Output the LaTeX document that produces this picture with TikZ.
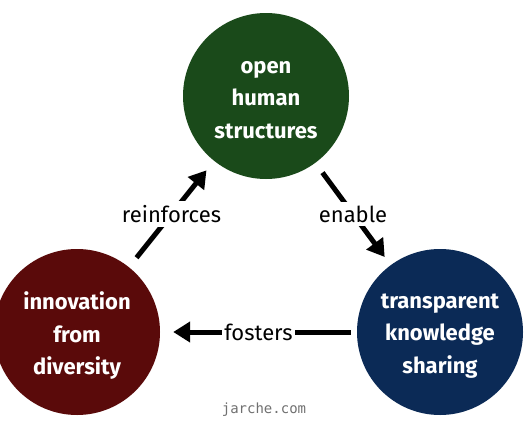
\documentclass[tikz,border=0pt]{standalone}
\usepackage{fontspec}
\setmainfont{Fira Sans}
\newfontfamily\monofam{DejaVu Sans Mono}
\usetikzlibrary{arrows.meta}
\definecolor{cgreen}{HTML}{1A4A1A}
\definecolor{cred}{HTML}{5A0A0A}
\definecolor{cblue}{HTML}{0B2A56}
\definecolor{cgray}{HTML}{707070}
\begin{document}
\begin{tikzpicture}[x=1pt,y=-1pt,
  bubble/.style={circle,minimum size=166pt,inner sep=0pt},
  bubtext/.style={text=white,align=center,yshift=-4pt,inner sep=0pt,
    font=\fontsize{22}{32.5}\selectfont\bfseries},
  link/.style={line width=5pt,-{Triangle[length=17pt,width=20pt]}},
  lbl/.style={fill=white,inner sep=4pt,font=\fontsize{22}{26}\selectfont}]
\useasboundingbox (0,0) rectangle (530,442);
\node[bubble,fill=cgreen,label={[bubtext]center:{open\\human\\structures}}] (top) at (266,96) {};
\node[bubble,fill=cred,label={[bubtext]center:{innovation\\from\\diversity}}] (left) at (77,332) {};
\node[bubble,fill=cblue,label={[bubtext]center:{transparent\\knowledge\\sharing}}] (right) at (440,332) {};
\draw[link,shorten <=12pt,shorten >=12pt] (left) -- node[lbl] {reinforces} (top);
\draw[link,shorten <=12pt,shorten >=10pt] (top) -- node[lbl] {enable} (right);
\draw[link,shorten <=6pt,shorten >=13pt] (right) -- node[lbl,inner xsep=2.5pt] {fosters} (left);
\node[text=cgray,font=\monofam\fontsize{14}{16}\selectfont] (credit) at (264,410) {jarche.com};
\end{tikzpicture}
\end{document}
